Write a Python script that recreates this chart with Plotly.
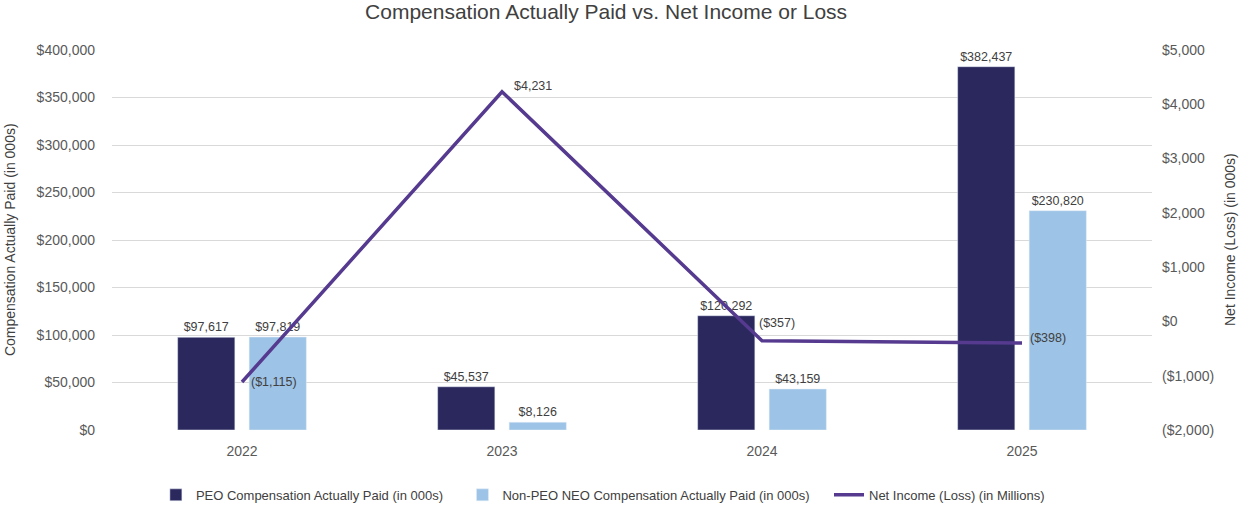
import plotly.graph_objects as go

years = ["2022", "2023", "2024", "2025"]
peo_cap = [97617, 45537, 120292, 382437]
non_peo_cap = [97819, 8126, 43159, 230820]
net_income = [-1115, 4231, -357, -398]

left_ticks = [0, 50000, 100000, 150000, 200000, 250000, 300000, 350000, 400000]
right_ticks = [-2000, -1000, 0, 1000, 2000, 3000, 4000, 5000]

FONT = "Liberation Sans, Arial, sans-serif"
TXT = "#595959"
LABEL = "#404040"

# pixel nudges for the net income labels (x, y)
line_label_shift = [(7, 0), (10, 6), (-5, 18), (6, 5)]


def money(v):
    if v < 0:
        return "(${:,})".format(-v)
    return "${:,}".format(v)


fig = go.Figure()

fig.add_trace(go.Bar(
    x=years, y=peo_cap,
    name="PEO Compensation Actually Paid (in 000s)" + "\u00a0" * 4,
    marker_color="#2b285e",
    text=[money(v) for v in peo_cap],
    textposition="outside",
    textfont=dict(size=12.5, color=LABEL),
    cliponaxis=False,
))
fig.add_trace(go.Bar(
    x=years, y=non_peo_cap,
    name="Non-PEO NEO Compensation Actually Paid (in 000s)" + "\u00a0" * 4,
    marker_color="#9dc3e6",
    text=[money(v) for v in non_peo_cap],
    textposition="outside",
    textfont=dict(size=12.5, color=LABEL),
    cliponaxis=False,
))
fig.add_trace(go.Scatter(
    x=years, y=net_income,
    name="Net Income (Loss) (in Millions)",
    mode="lines",
    line=dict(color="#553a8f", width=3.5),
    yaxis="y2",
    cliponaxis=False,
))

annotations = [
    dict(text="Compensation Actually Paid (in 000s)", textangle=-90,
         xref="paper", yref="paper", x=-0.098, y=0.5,
         xanchor="center", yanchor="middle", showarrow=False,
         font=dict(size=14, color=LABEL)),
    dict(text="Net Income (Loss) (in 000s)", textangle=-90,
         xref="paper", yref="paper", x=1.075, y=0.5,
         xanchor="center", yanchor="middle", showarrow=False,
         font=dict(size=14, color=LABEL)),
]
# category axis: annotations are placed by category index
for i, (v, (dx, dy)) in enumerate(zip(net_income, line_label_shift)):
    annotations.append(dict(
        text=money(v), x=i, y=v, xref="x", yref="y2",
        xanchor="left", yanchor="middle", showarrow=False,
        xshift=dx, yshift=dy, font=dict(size=12.5, color=LABEL)))

fig.update_layout(
    width=1242, height=506,
    margin=dict(l=112, r=90, t=50, b=76, autoexpand=False),
    paper_bgcolor="white", plot_bgcolor="white",
    font=dict(family=FONT, color=TXT, size=14),
    title=dict(text="Compensation Actually Paid vs. Net Income or Loss",
               x=0.488, xanchor="center", y=0.992, yanchor="top",
               font=dict(size=21, color=LABEL)),
    barmode="group",
    bargap=0.45,
    bargroupgap=0.2,
    showlegend=True,
    legend=dict(orientation="h", x=0.472, xanchor="center",
                yref="container", y=0.022, yanchor="middle",
                font=dict(size=13, color=LABEL), traceorder="normal"),
    xaxis=dict(type="category", range=[-0.5, len(years) - 0.5],
               showgrid=False, showline=False, ticks="",
               automargin=False, ticklabelstandoff=11,
               tickfont=dict(size=14, color=TXT)),
    yaxis=dict(range=[0, 400000], tickvals=left_ticks,
               ticktext=[money(v) for v in left_ticks], automargin=False,
               gridcolor="#d9d9d9", zeroline=False, showline=False,
               tickfont=dict(size=14, color=TXT), ticklabelstandoff=16),
    yaxis2=dict(range=[-2000, 5000], tickvals=right_ticks,
                ticktext=[money(v) for v in right_ticks], automargin=False,
                overlaying="y", side="right", showgrid=False, zeroline=False,
                tickfont=dict(size=14, color=TXT), ticklabelstandoff=9),
    annotations=annotations,
)

# drop the default body margin so the 1242x506 figure fills the window
fig.write_html("out.html", config={"displayModeBar": False},
               post_script="document.body.style.margin='0';")
